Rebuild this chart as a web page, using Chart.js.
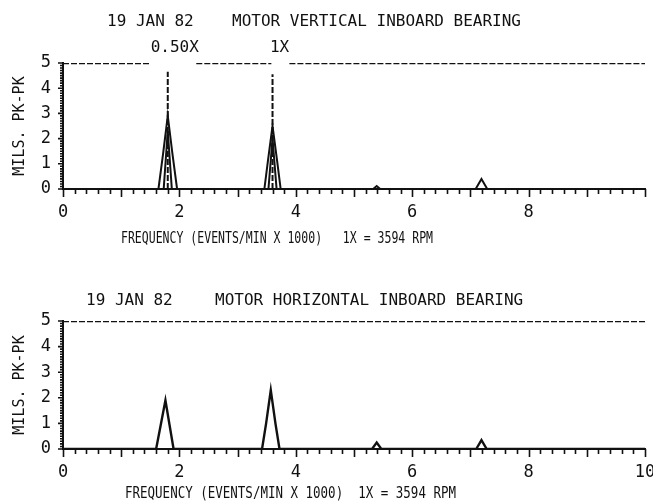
<!DOCTYPE html>
<html>
<head>
<meta charset="utf-8">
<script src="https://cdn.jsdelivr.net/npm/chart.js@4/dist/chart.umd.min.js"></script>
<style>
  html, body { margin: 0; padding: 0; background: #fff; }
  canvas { display: block; }
</style>
</head>
<body>
<canvas id="vertChart" width="653" height="252"></canvas>
<canvas id="horizChart" width="653" height="252"></canvas>
<script>
// frequency in thousands of events/min, amplitude in mils pk-pk
var xLabelsVert = [0, 2, 4, 6, 8];
var xLabelsHoriz = [0, 2, 4, 6, 8, 10];
var yLabels = [0, 1, 2, 3, 4, 5];

// vertical bearing spectrum (two overlapping sweeps)
var vertFreqOuter = [0, 1.64, 1.72, 1.80, 1.88, 1.96, 3.46, 3.52, 3.60, 3.68, 3.74, 5.33, 5.39, 5.45, 7.09, 7.19, 7.29, 10];
var vertAmpOuter  = [0, 0,    1.4,  2.9,  1.4,  0,    0,    1.1,  2.5,  1.1,  0,    0,    0.12, 0,    0,    0.4,  0,    0];
var vertFreqInner = [1.73, 1.80, 1.87, 3.53, 3.60, 3.67];
var vertAmpInner  = [0,    2.3,  0,    0,    2.0,  0];

// horizontal bearing spectrum
var horizFreq = [0, 1.60, 1.68, 1.76, 1.83, 1.90, 3.42, 3.49, 3.57, 3.65, 3.72, 5.31, 5.39, 5.47, 7.10, 7.19, 7.28, 10];
var horizAmp  = [0, 0,    0.95, 1.9,  0.95, 0,    0,    1.0,  2.3,  1.0,  0,    0,    0.25, 0,    0,    0.35, 0,    0];

// order markers on the vertical plot
var markerFreq = [1.80, 3.60];
var markerAmp  = [4.65, 4.55];
var markerText = ['0.50X', '1X'];

// full-scale line, drawn in spans
var fullScale = 5;
var vertScaleSpans  = [[0, 1.48], [2.29, 3.58], [3.89, 10]];
var horizScaleSpans = [[0, 10]];

var INK = '#111';
var FONT = '"DejaVu Sans Mono", monospace';

function toPoints(xs, ys) {
  return xs.map(function (x, i) { return { x: x, y: ys[i] }; });
}

function spanPoints(spans, level) {
  var pts = [];
  spans.forEach(function (s) {
    pts.push({ x: s[0], y: level }, { x: s[1], y: level }, { x: s[1], y: null });
  });
  return pts;
}

function lineSet(data, width, dash) {
  return {
    data: data, borderColor: INK, borderWidth: width, borderDash: dash || [],
    pointRadius: 0, fill: false, tension: 0, spanGaps: false
  };
}

function drawText(ctx, text, x, y, size, opts) {
  opts = opts || {};
  ctx.save();
  ctx.font = size + 'px ' + FONT;
  ctx.fillStyle = INK;
  ctx.textBaseline = 'middle';
  ctx.textAlign = opts.align || 'left';
  ctx.translate(x, y);
  if (opts.width) {
    ctx.scale(opts.width / ctx.measureText(text).width, 1);
  }
  ctx.fillText(text, 0, 0);
  ctx.restore();
}

// ruler style ticks: x every 0.2 (long at integers), y every 0.1
var rulerTicks = {
  id: 'rulerTicks',
  afterDraw: function (chart) {
    var ctx = chart.ctx, xs = chart.scales.x, ys = chart.scales.y, a = chart.chartArea;
    ctx.save();
    ctx.strokeStyle = INK;
    ctx.lineWidth = 1.6;
    ctx.beginPath();
    for (var i = 0; i <= 50; i++) {
      var px = Math.round(xs.getPixelForValue(i / 5)) + 0.5;
      var len = (i % 5 === 0) ? 8 : 5;
      ctx.moveTo(px, a.bottom);
      ctx.lineTo(px, a.bottom + len);
    }
    for (var j = 0; j <= 50; j++) {
      var py = ys.getPixelForValue(j / 10);
      var l = (j % 10 === 0) ? 5 : 3;
      ctx.moveTo(a.left, py);
      ctx.lineTo(a.left - l, py);
    }
    ctx.stroke();
    ctx.restore();
  }
};

function makeChart(id, cfg) {
  var textPlugin = {
    id: 'plotText',
    afterDraw: function (chart) {
      cfg.draw(chart.ctx, chart);
    }
  };
  return new Chart(document.getElementById(id), {
    type: 'line',
    data: { datasets: cfg.datasets },
    plugins: [rulerTicks, textPlugin],
    options: {
      responsive: false,
      animation: false,
      layout: { padding: { top: cfg.top, right: 8, left: 0, bottom: 0 } },
      plugins: { legend: { display: false }, tooltip: { enabled: false } },
      scales: {
        x: {
          type: 'linear', min: 0, max: 10,
          grid: { display: false, drawTicks: false },
          border: { display: true, color: INK, width: 2 },
          ticks: { color: INK, font: { family: FONT, size: 17 }, padding: 13, maxRotation: 0, autoSkip: false },
          afterBuildTicks: function (s) { s.ticks = cfg.xLabels.map(function (v) { return { value: v }; }); },
          afterFit: function (s) { s.height = cfg.xHeight; s.paddingLeft = 0; s.paddingRight = 0; }
        },
        y: {
          type: 'linear', min: 0, max: 5,
          grid: { display: false, drawTicks: false },
          border: { display: true, color: INK, width: 2 },
          ticks: { color: INK, font: { family: FONT, size: 17 }, padding: 12, autoSkip: false },
          afterBuildTicks: function (s) { s.ticks = yLabels.map(function (v) { return { value: v }; }); },
          title: { display: true, text: 'MILS. PK-PK', color: INK, font: { family: FONT, size: 15 }, padding: { top: 11, bottom: 0 } },
          afterFit: function (s) { s.width = 63; }
        }
      }
    }
  });
}

var vertSets = [
  lineSet(spanPoints(vertScaleSpans, fullScale), 2.5, [6, 2]),
  lineSet(toPoints(vertFreqOuter, vertAmpOuter), 2),
  lineSet(toPoints(vertFreqInner, vertAmpInner), 2)
];
markerFreq.forEach(function (f, i) {
  vertSets.push(lineSet([{ x: f, y: 0 }, { x: f, y: markerAmp[i] }], 2, [6, 2]));
});

makeChart('vertChart', {
  top: 63, xHeight: 63, xLabels: xLabelsVert, datasets: vertSets,
  draw: function (ctx, chart) {
    drawText(ctx, '19 JAN 82', 107, 22, 16);
    drawText(ctx, 'MOTOR VERTICAL INBOARD BEARING', 232, 22, 16);
    markerFreq.forEach(function (f, i) {
      drawText(ctx, markerText[i], chart.scales.x.getPixelForValue(f) + 7, 48, 16, { align: 'center' });
    });
    drawText(ctx, 'FREQUENCY (EVENTS/MIN X 1000)   1X = 3594 RPM', 121, 239, 16, { width: 312 });
  }
});

makeChart('horizChart', {
  top: 69, xHeight: 55, xLabels: xLabelsHoriz,
  datasets: [
    lineSet(spanPoints(horizScaleSpans, fullScale), 2.5, [6, 2]),
    lineSet(toPoints(horizFreq, horizAmp), 2.4)
  ],
  draw: function (ctx) {
    drawText(ctx, '19 JAN 82', 86, 49, 16);
    drawText(ctx, 'MOTOR HORIZONTAL INBOARD BEARING', 215, 49, 16);
    drawText(ctx, 'FREQUENCY (EVENTS/MIN X 1000)  1X = 3594 RPM', 125, 242, 16, { width: 331 });
  }
});
</script>
</body>
</html>
